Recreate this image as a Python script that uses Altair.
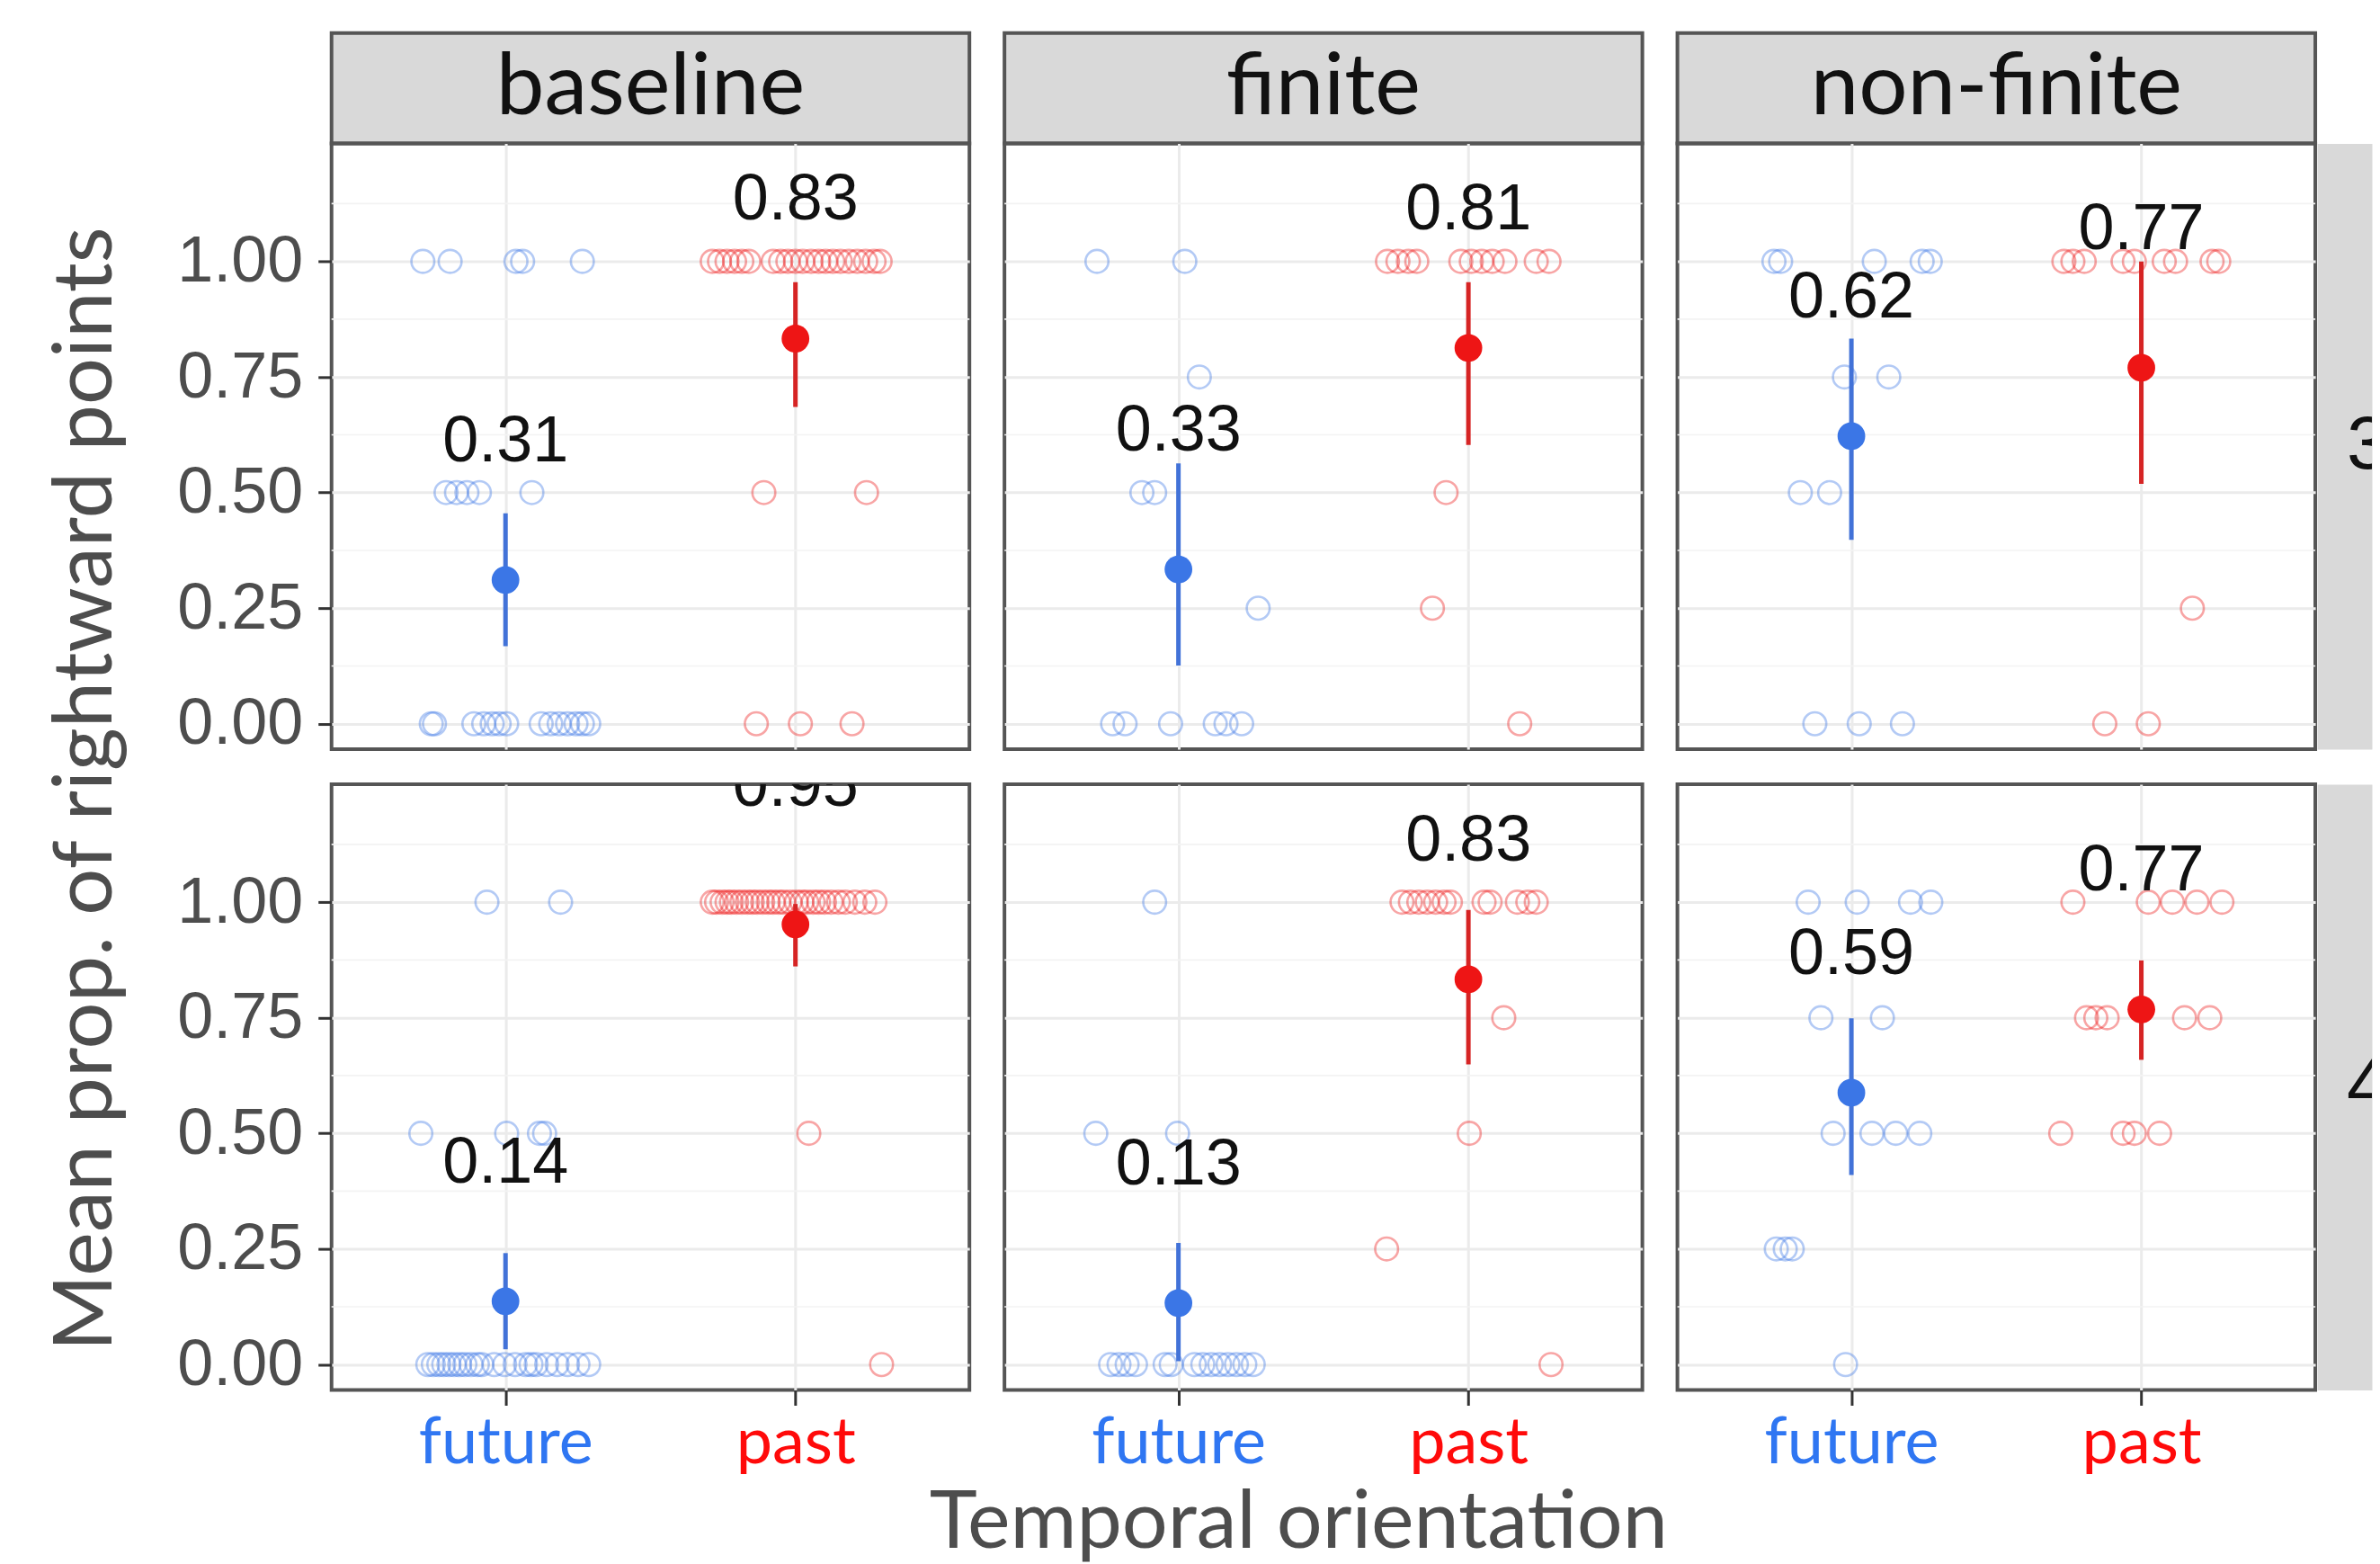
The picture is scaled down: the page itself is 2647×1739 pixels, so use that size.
import altair as alt
import pandas as pd

conditions = ["baseline", "finite", "non-finite"]
row_labels = ["3", "4"]
orientations = ["future", "past"]
category_position = [1, 2]
x_tick_labels = ["future", "past"]
y_major_breaks = [0, 0.25, 0.5, 0.75, 1.0]
y_minor_breaks = [0.125, 0.375, 0.625, 0.875, 1.125]

# summary values, order: baseline future, baseline past, finite future, finite past, non-finite future, non-finite past
mean_row3 = [0.311, 0.833, 0.334, 0.813, 0.622, 0.770]
ci_low_row3 = [0.168, 0.685, 0.126, 0.603, 0.398, 0.519]
ci_high_row3 = [0.455, 0.955, 0.563, 0.955, 0.833, 1.000]
mean_row4 = [0.137, 0.952, 0.133, 0.833, 0.588, 0.768]
ci_low_row4 = [0.033, 0.861, 0.007, 0.649, 0.410, 0.659]
ci_high_row4 = [0.241, 0.996, 0.263, 0.983, 0.749, 0.874]

# individual (jittered) points: {y value: [horizontal jitter offsets]}
baseline3_future = {1.0: [-0.285, -0.191, 0.036, 0.059, 0.265],
                    0.5: [-0.205, -0.169, -0.133, -0.090, 0.091],
                    0.0: [-0.256, -0.245, -0.109, -0.075, -0.046, -0.022, 0.004, 0.123, 0.156, 0.185, 0.214, 0.243, 0.265, 0.287]}
baseline3_past = {1.0: [-0.287, -0.262, -0.236, -0.210, -0.185, -0.161, -0.077, -0.051, -0.026, 0.0, 0.025, 0.054, 0.080, 0.104, 0.129, 0.155, 0.184, 0.213, 0.242, 0.271, 0.292],
                  0.5: [-0.109, 0.245],
                  0.0: [-0.135, 0.017, 0.195]}
finite3_future = {1.0: [-0.281, 0.022],
                  0.75: [0.072],
                  0.5: [-0.126, -0.082],
                  0.25: [0.275],
                  0.0: [-0.227, -0.184, -0.027, 0.127, 0.164, 0.218]}
finite3_past = {1.0: [-0.279, -0.243, -0.207, -0.178, -0.026, 0.010, 0.046, 0.082, 0.126, 0.234, 0.278],
                0.5: [-0.077],
                0.25: [-0.124],
                0.0: [0.177]}
nonfinite3_future = {1.0: [-0.267, -0.244, 0.079, 0.244, 0.272],
                     0.75: [-0.024, 0.129],
                     0.5: [-0.176, -0.075],
                     0.0: [-0.126, 0.027, 0.176]}
nonfinite3_past = {1.0: [-0.267, -0.236, -0.197, -0.063, -0.024, 0.079, 0.118, 0.244, 0.267],
                   0.25: [0.176],
                   0.0: [-0.126, 0.024]}
baseline4_future = {1.0: [-0.064, 0.190],
                    0.5: [-0.292, 0.004, 0.117, 0.135],
                    0.0: [-0.268, -0.249, -0.230, -0.213, -0.195, -0.177, -0.158, -0.140, -0.119, -0.097, -0.082, -0.039, -0.003, 0.033, 0.069, 0.088, 0.106, 0.142, 0.178, 0.214, 0.250, 0.287]}
baseline4_past = {1.0: [-0.287, -0.272, -0.253, -0.236, -0.221, -0.203, -0.185, -0.166, -0.149, -0.132, -0.113, -0.094, -0.077, -0.058, -0.041, -0.019, 0.003, 0.022, 0.039, 0.061, 0.080, 0.100, 0.123, 0.148, 0.172, 0.205, 0.239, 0.274],
                  0.5: [0.046],
                  0.0: [0.297]}
finite4_future = {1.0: [-0.082],
                  0.5: [-0.285, -0.003],
                  0.0: [-0.234, -0.205, -0.177, -0.148, -0.046, -0.025, 0.055, 0.084, 0.113, 0.142, 0.171, 0.200, 0.229, 0.258]}
finite4_past = {1.0: [-0.229, -0.200, -0.171, -0.142, -0.113, -0.084, -0.062, 0.054, 0.075, 0.169, 0.205, 0.234],
                0.75: [0.122],
                0.5: [0.003],
                0.25: [-0.282],
                0.0: [0.285]}
nonfinite4_future = {1.0: [-0.149, 0.020, 0.204, 0.274],
                     0.75: [-0.105, 0.107],
                     0.5: [-0.063, 0.071, 0.153, 0.236],
                     0.25: [-0.259, -0.228, -0.204],
                     0.0: [-0.020]}
nonfinite4_past = {1.0: [-0.236, 0.024, 0.107, 0.192, 0.278],
                   0.75: [-0.189, -0.157, -0.118, 0.149, 0.236],
                   0.5: [-0.278, -0.063, -0.024, 0.063]}

jitter = {
    ("baseline", "3"): (baseline3_future, baseline3_past),
    ("finite", "3"): (finite3_future, finite3_past),
    ("non-finite", "3"): (nonfinite3_future, nonfinite3_past),
    ("baseline", "4"): (baseline4_future, baseline4_past),
    ("finite", "4"): (finite4_future, finite4_past),
    ("non-finite", "4"): (nonfinite4_future, nonfinite4_past),
}

FUT = "#3B76E6"
PAST = "#EE1515"
FUT_CI = "#4272D8"
PAST_CI = "#D62424"
FUT_TXT = "#2F76F2"
PAST_TXT = "#FF0A0A"
GRID = "#EBEBEB"
GRID_MINOR = "#F3F3F3"
BORDER = "#555555"
TICK = "#333333"
TEXT_GRAY = "#4D4D4D"
SANS = "Liberation Sans"
HUMAN = "Lato"

PW = 710
PH = 674
GAP = 39
HEADER_H = 123
STRIP_W = 61

Y_DOMAIN = [-0.055, 1.255]
X_DOMAIN = [0.4, 2.6]


def y_axis(show, with_title):
    kw = dict(values=y_major_breaks, grid=True, gridColor=GRID, gridWidth=3,
              domain=False, ticks=show, labels=show, labelOverlap=False, labelFlush=False,
              tickSize=15, tickWidth=3, tickColor=TICK, format=".2f", labelLimit=0,
              labelFont=SANS, labelFontSize=72, labelColor=TEXT_GRAY, labelPadding=17)
    if with_title:
        kw.update(title="Mean prop. of rightward points", titleFont=HUMAN, titleFontSize=92,
                  titleFontWeight="normal", titleColor=TEXT_GRAY, titleAngle=270, titleLimit=0,
                  titleAlign="center", titleBaseline="middle", titleX=-273, titleY=718)
    else:
        kw.update(title=None)
    return alt.Axis(**kw)


def x_axis(show, with_title):
    kw = dict(values=category_position, grid=True, gridColor=GRID, gridWidth=3,
              domain=False, ticks=show, labels=show, labelOverlap=False, labelFlush=False,
              tickSize=17, tickWidth=3, tickColor=TICK, labelLimit=0,
              labelExpr="datum.value == 1 ? '" + x_tick_labels[0] + "' : '" + x_tick_labels[1] + "'",
              labelColor={"condition": {"test": "datum.value == 1", "value": FUT_TXT}, "value": PAST_TXT},
              labelFont=HUMAN, labelFontSize=72, labelPadding=7)
    if with_title:
        kw.update(title="Temporal orientation", titleFont=HUMAN, titleFontSize=90, titleLimit=0,
                  titleFontWeight="normal", titleColor=TEXT_GRAY, titleAlign="center",
                  titleBaseline="middle", titleX=327, titleY=148)
    else:
        kw.update(title=None)
    return alt.Axis(**kw)


def panel(cond, row):
    fut, past = jitter[(cond, row)]
    recs = []
    for orient, pos, d in (("future", 1, fut), ("past", 2, past)):
        for yv, offs in d.items():
            for o in offs:
                recs.append({"x": pos + o, "y": yv, "orient": orient})
    pts = pd.DataFrame(recs)
    i = conditions.index(cond)
    if row == "3":
        m, lo, hi = mean_row3, ci_low_row3, ci_high_row3
    else:
        m, lo, hi = mean_row4, ci_low_row4, ci_high_row4
    summ = pd.DataFrame({"pos": category_position, "orient": orientations,
                         "mean": m[2 * i:2 * i + 2], "lo": lo[2 * i:2 * i + 2], "hi": hi[2 * i:2 * i + 2]})
    minor = pd.DataFrame({"yminor": y_minor_breaks})

    left = cond == "baseline"
    bottom = row == "4"
    xs = alt.Scale(domain=X_DOMAIN, nice=False, zero=False)
    ys = alt.Scale(domain=Y_DOMAIN, nice=False, zero=False)
    xa = x_axis(bottom, bottom and cond == "finite")
    ya = y_axis(left, left and row == "3")
    is_fut = "datum.orient == 'future'"

    grid_minor = alt.Chart(minor).mark_rule(color=GRID_MINOR, strokeWidth=1.6).encode(
        y=alt.Y("yminor:Q", scale=ys, axis=ya),
    )
    jit = alt.Chart(pts).mark_point(shape="circle", filled=False, size=650, strokeWidth=2.6,
                                    opacity=0.38).encode(
        x=alt.X("x:Q", scale=xs, axis=xa),
        y=alt.Y("y:Q", scale=ys, axis=ya),
        color=alt.condition(is_fut, alt.value(FUT), alt.value(PAST)),
    )
    ci = alt.Chart(summ).mark_rule(strokeWidth=5).encode(
        x=alt.X("pos:Q", scale=xs, axis=xa),
        y=alt.Y("lo:Q", scale=ys, axis=ya),
        y2="hi:Q",
        color=alt.condition(is_fut, alt.value(FUT_CI), alt.value(PAST_CI)),
    )
    mean_pt = alt.Chart(summ).mark_circle(size=950, opacity=1).encode(
        x=alt.X("pos:Q", scale=xs, axis=xa),
        y=alt.Y("mean:Q", scale=ys, axis=ya),
        color=alt.condition(is_fut, alt.value(FUT), alt.value(PAST)),
    )
    lab = alt.Chart(summ).transform_calculate(label_y="datum.mean + 0.3").mark_text(
        font=SANS, fontSize=72, color="#111111", baseline="middle", align="center", clip=True
    ).encode(
        x=alt.X("pos:Q", scale=xs, axis=xa),
        y=alt.Y("label_y:Q", scale=ys, axis=ya),
        text=alt.Text("mean:Q", format=".2f"),
    )
    return alt.layer(grid_minor, jit, ci, mean_pt, lab).properties(
        width=PW, height=PH,
        view=alt.ViewBackground(stroke=BORDER, strokeWidth=4),
    )


def header(name):
    return alt.Chart(pd.DataFrame({"cond": [name]})).mark_text(
        font=HUMAN, fontSize=96, color="#111111", baseline="middle", align="center"
    ).encode(text="cond:N").properties(
        width=PW, height=HEADER_H,
        view=alt.ViewBackground(fill="#D9D9D9", stroke=BORDER, strokeWidth=4),
    )


def strip(lbl):
    return alt.Chart(pd.DataFrame({"row": [lbl]})).mark_text(
        font=SANS, fontSize=84, color="#111111", baseline="middle", align="left", clip=True
    ).encode(text="row:N", x=alt.value(33)).properties(
        width=STRIP_W, height=PH,
        view=alt.ViewBackground(fill="#D9D9D9", stroke="transparent"),
    )


def spacer(w, h):
    return alt.Chart(pd.DataFrame({"s": [0]})).mark_point(opacity=0).encode(
        x=alt.value(0), y=alt.value(0)
    ).properties(width=w, height=h, view=alt.ViewBackground(stroke="transparent"))


cells = []
cells += [header(conditions[0]), spacer(GAP, HEADER_H), header(conditions[1]), spacer(GAP, HEADER_H),
          header(conditions[2]), spacer(2, HEADER_H), spacer(STRIP_W, HEADER_H)]
cells += [panel(conditions[0], "3"), spacer(GAP, PH), panel(conditions[1], "3"), spacer(GAP, PH),
          panel(conditions[2], "3"), spacer(2, PH), strip(row_labels[0])]
cells += [spacer(PW, GAP), spacer(GAP, GAP), spacer(PW, GAP), spacer(GAP, GAP),
          spacer(PW, GAP), spacer(2, GAP), spacer(STRIP_W, GAP)]
cells += [panel(conditions[0], "4"), spacer(GAP, PH), panel(conditions[1], "4"), spacer(GAP, PH),
          panel(conditions[2], "4"), spacer(2, PH), strip(row_labels[1])]

chart = alt.concat(*cells, columns=7, spacing=0, bounds="flush").properties(
    padding={"left": 39, "top": 24, "right": 0, "bottom": 0}
).configure_view(stroke="transparent").configure(background="white")

chart.save("out.html", embed_options={"renderer": "svg", "actions": False})
